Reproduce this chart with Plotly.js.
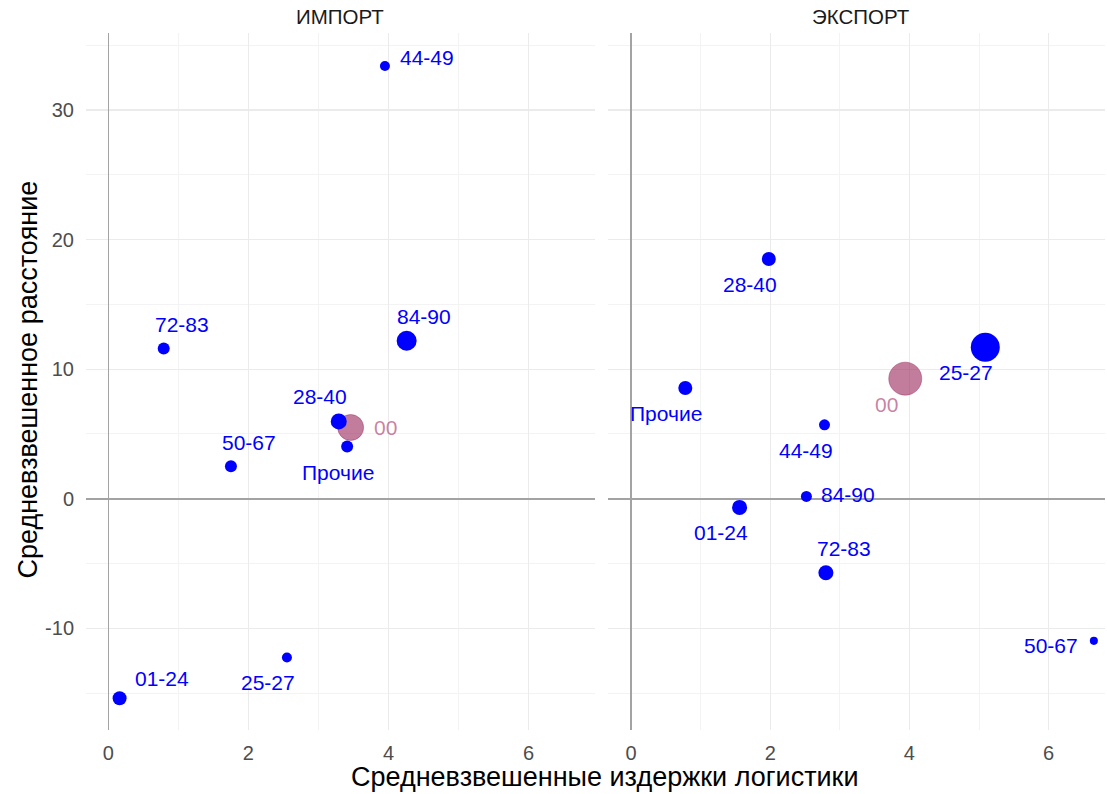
<!DOCTYPE html>
<html>
<head>
<meta charset="utf-8">
<script src="https://cdn.plot.ly/plotly-3.0.1.min.js"></script>
<style>html,body{margin:0;padding:0;background:#fff;}#chart{width:1107px;height:794px;}</style>
</head>
<body>
<div id="chart"></div>
<script>
// ---- data ----
const panels = ['ИМПОРТ', 'ЭКСПОРТ'];
const codes = ['01-24', '25-27', '28-40', '44-49', '50-67', '72-83', '84-90', 'Прочие', '00'];
// ИМПОРТ
const impCost = [0.16, 2.55, 3.29, 3.95, 1.75, 0.79, 4.26, 3.41, 3.46];
const impDist = [-15.4, -12.25, 5.97, 33.4, 2.5, 11.6, 12.2, 4.04, 5.5];
const impWeight = [18, 9.2, 23.5, 9.2, 13.2, 13.2, 36.7, 13.2, 62];
// ЭКСПОРТ
const expCost = [1.56, 5.09, 1.98, 2.78, 6.65, 2.80, 2.52, 0.78, 3.94];
const expDist = [-0.67, 11.7, 18.5, 5.71, -10.97, -5.71, 0.18, 8.55, 9.27];
const expWeight = [20.7, 77, 18, 11.1, 5.9, 20.7, 11.1, 18, 100];
const xTitle = 'Средневзвешенные издержки логистики';
const yTitle = 'Средневзвешенное расстояние';

// ---- label placement (px offsets: right, up) ----
const impLabelOff = [[42,20],[-19,-25],[-19,25],[42,9],[18,24],[18,24],[17,24],[-9,-26],[35,0]];
const expLabelOff = [[-19,-25],[-19,-25],[-19,-25],[-19,-26],[-43,-5],[18,24],[42,2],[-19,-26],[-19,-26]];

const BLUE = '#0000FF';
const PINK = 'rgba(150,30,85,0.58)';
const PINK_TXT = 'rgba(165,45,105,0.6)';
const FONT = 'Liberation Sans, Arial, sans-serif';
const SIZEREF = 0.1837;

function makeTraces(xs, ys, ws, xa, ya){
  const idxPink = codes.map((c,i)=>i).filter(i=>codes[i]==='00');
  const idxBlue = codes.map((c,i)=>i).filter(i=>codes[i]!=='00');
  const mk = (idx, col, line) => ({
    type:'scatter', mode:'markers', xaxis:xa, yaxis:ya,
    x: idx.map(i=>xs[i]), y: idx.map(i=>ys[i]),
    text: idx.map(i=>codes[i]), hoverinfo:'text+x+y',
    marker:{size: idx.map(i=>ws[i]), sizemode:'area', sizeref:SIZEREF, color:col,
      opacity:1, line: line},
    showlegend:false, cliponaxis:false
  });
  return [mk(idxPink, PINK, {color:'rgba(150,30,85,0.4)', width:1}), mk(idxBlue, BLUE, {width:0})];
}

const traces = [].concat(
  makeTraces(impCost, impDist, impWeight, 'x', 'y'),
  makeTraces(expCost, expDist, expWeight, 'x2', 'y2')
);

const annotations = [];
function addLabels(xs, ys, offs, xa, ya){
  codes.forEach((c,i)=>{
    annotations.push({
      x: xs[i], y: ys[i], xref: xa, yref: ya, text: c, showarrow:false,
      xshift: offs[i][0], yshift: offs[i][1],
      xanchor:'center', yanchor:'middle',
      font:{family:FONT, size:21, color: c==='00' ? PINK_TXT : BLUE}
    });
  });
}
addLabels(impCost, impDist, impLabelOff, 'x', 'y');
addLabels(expCost, expDist, expLabelOff, 'x2', 'y2');

// strip titles
const dom1 = [0, 0.4995], dom2 = [0.5123, 1];
[[panels[0], dom1], [panels[1], [0.5123, 1.0088]]].forEach(([t, d])=>{
  annotations.push({text:t, xref:'paper', yref:'paper', x:(d[0]+d[1])/2, y:1, yshift:17,
    xanchor:'center', yanchor:'middle', showarrow:false,
    font:{family:FONT, size:20.5, color:'#1A1A1A'}});
});
// shared x-axis title, centred under both panels
annotations.push({text:xTitle, xref:'paper', yref:'paper', x:0.509, y:0, yshift:-47,
  xanchor:'center', yanchor:'middle', showarrow:false,
  font:{family:FONT, size:27, color:'#000'}});
// y-axis title
annotations.push({text:yTitle, xref:'paper', yref:'paper', x:0, xshift:-59, y:0.5, yshift:2,
  xanchor:'center', yanchor:'middle', textangle:-90, showarrow:false,
  font:{family:FONT, size:27, color:'#000'}});

const gridX = {
  tickvals:[0,2,4,6], ticktext:['0','2','4','6'],
  showgrid:true, gridcolor:'#EBEBEB', gridwidth:1.3,
  minor:{tickvals:[1,3,5], showgrid:true, gridcolor:'#F3F3F3', gridwidth:1},
  zeroline:true, zerolinecolor:'#A3A3A3', zerolinewidth:1.8,
  showline:false, ticks:'', ticklabelstandoff:9,
  tickfont:{family:FONT, size:20, color:'#4D4D4D'},
  fixedrange:true
};
const gridY = {
  range:[-17.85, 35.95], tickvals:[-10,0,10,20,30], ticktext:['-10','0','10','20','30'],
  showgrid:true, gridcolor:'#EBEBEB', gridwidth:1.3,
  minor:{tickvals:[-15,-5,5,15,25,35], showgrid:true, gridcolor:'#F3F3F3', gridwidth:1},
  zeroline:true, zerolinecolor:'#A3A3A3', zerolinewidth:1.8,
  showline:false, ticks:'', ticklabelstandoff:11,
  tickfont:{family:FONT, size:20, color:'#4D4D4D'},
  fixedrange:true
};

const layout = {
  width:1107, height:794,
  margin:{l:86, r:2, t:33, b:64},
  paper_bgcolor:'#FFFFFF', plot_bgcolor:'#FFFFFF',
  font:{family:FONT},
  xaxis: Object.assign({}, gridX, {domain:dom1, anchor:'y', range:[-0.32, 6.95]}),
  xaxis2: Object.assign({}, gridX, {domain:dom2, anchor:'y2', range:[-0.33, 6.81]}),
  yaxis: Object.assign({}, gridY, {anchor:'x'}),
  yaxis2: Object.assign({}, gridY, {anchor:'x2', matches:'y', showticklabels:false}),
  annotations: annotations,
  showlegend:false
};

Plotly.newPlot('chart', traces, layout, {displayModeBar:false, staticPlot:true});
</script>
</body>
</html>
